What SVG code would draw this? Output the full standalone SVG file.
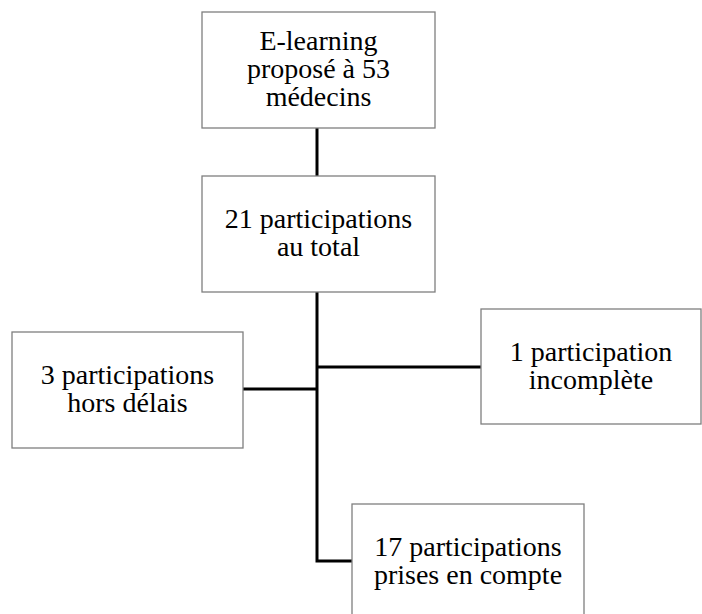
<svg xmlns="http://www.w3.org/2000/svg" width="702" height="614" viewBox="0 0 702 614">
<style>
.box{fill:#fff;stroke:#7f7f7f;stroke-width:1.3}
.t{font-family:"Liberation Serif","DejaVu Serif",serif;font-size:28px;fill:#000;text-anchor:middle}
.c{stroke:#000;stroke-width:3;fill:none}
</style>
<rect width="702" height="614" fill="#fff"/>
<g id="connectors">
<line class="c" x1="317" y1="128" x2="317" y2="176"/>
<polyline class="c" points="317,292 317,561 352,561"/>
<line class="c" x1="317" y1="367" x2="481" y2="367"/>
<line class="c" x1="243" y1="389" x2="317" y2="389"/>
</g>
<g id="n1"><rect class="box" x="202" y="12" width="233" height="116"/>
<text class="t" x="318.5" y="50">E-learning</text>
<text class="t" x="318.5" y="78">proposé à 53</text>
<text class="t" x="318.5" y="106">médecins</text></g>
<g id="n2"><rect class="box" x="202" y="176" width="233" height="116"/>
<text class="t" x="318.5" y="228">21 participations</text>
<text class="t" x="318.5" y="256">au total</text></g>
<g id="n3"><rect class="box" x="12" y="332" width="231" height="116"/>
<text class="t" x="127.5" y="384">3 participations</text>
<text class="t" x="127.5" y="412">hors délais</text></g>
<g id="n4"><rect class="box" x="481" y="309" width="220" height="115"/>
<text class="t" x="591" y="361">1 participation</text>
<text class="t" x="591" y="389">incomplète</text></g>
<g id="n5"><rect class="box" x="352" y="504" width="232" height="116"/>
<text class="t" x="468" y="556">17 participations</text>
<text class="t" x="468" y="584">prises en compte</text></g>
</svg>
